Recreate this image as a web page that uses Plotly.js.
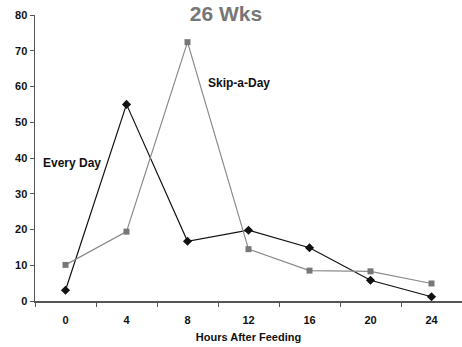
<!DOCTYPE html>
<html>
<head>
<meta charset="utf-8">
<script src="https://cdn.plot.ly/plotly-3.0.1.min.js"></script>
<style>html,body{margin:0;padding:0;background:#fff;}#chart{width:462px;height:347px;}</style>
</head>
<body>
<div id="chart"></div>
<script>
const hours = ["0", "4", "8", "12", "16", "20", "24"];
const everyDay = [3, 55, 16.7, 19.8, 14.9, 5.8, 1.2];
const skipADay = [10.1, 19.4, 72.4, 14.5, 8.5, 8.3, 4.9];
const yTicks = [0, 10, 20, 30, 40, 50, 60, 70, 80];

const traces = [
  {
    x: hours, y: everyDay, type: 'scatter', mode: 'lines+markers', name: 'Every Day',
    line: {color: '#111111', width: 1.2},
    marker: {symbol: 'diamond', size: 7, color: '#111111'}
  },
  {
    x: hours, y: skipADay, type: 'scatter', mode: 'lines+markers', name: 'Skip-a-Day',
    line: {color: '#8a8a8a', width: 1.2},
    marker: {symbol: 'square', size: 6, color: '#777777'}
  }
];

const layout = {
  width: 462, height: 347,
  margin: {l: 35, r: 0, t: 15, b: 46},
  paper_bgcolor: '#ffffff', plot_bgcolor: '#ffffff',
  showlegend: false,
  font: {family: 'Liberation Sans, Arial, sans-serif', color: '#111'},
  title: {
    text: '<b>26 Wks</b>',
    font: {size: 21, color: '#777777', family: 'Liberation Sans, Arial, sans-serif'},
    x: 0.489, xanchor: 'center', xref: 'container',
    y: 1.0, yanchor: 'top', yref: 'container', pad: {t: 6}
  },
  xaxis: {
    type: 'category', range: [-0.5, 6.5],
    tickson: 'boundaries', ticks: 'outside', ticklen: 4, tickcolor: '#555',
    showline: true, linecolor: '#555', linewidth: 1.5,
    showgrid: false, zeroline: false, ticklabelstandoff: 8,
    tickfont: {size: 11, family: 'Liberation Sans, Arial, sans-serif', color: '#111'},
    title: {text: '<b>Hours After Feeding</b>', font: {size: 11, color: '#111'}, standoff: 8}
  },
  yaxis: {
    range: [0, 80], tickvals: yTicks, ticktext: yTicks.map(v => '<b>' + v + '</b>'),
    ticks: 'outside', ticklen: 4, tickcolor: '#555',
    showline: true, linecolor: '#555', linewidth: 1.5,
    showgrid: false, zeroline: false,
    tickfont: {size: 11, family: 'Liberation Sans, Arial, sans-serif', color: '#111'}
  },
  annotations: [
    {x: 0, y: 38.5, xref: 'paper', yref: 'y', xanchor: 'left', yanchor: 'middle', xshift: 6,
     text: '<b>Every Day</b>', showarrow: false, font: {size: 12, color: '#111'}},
    {x: 2.3, y: 61, xref: 'x', yref: 'y', xanchor: 'left', yanchor: 'middle',
     text: '<b>Skip-a-Day</b>', showarrow: false, font: {size: 12, color: '#111'}}
  ]
};

layout.xaxis.tickvals = hours;
layout.xaxis.ticktext = hours.map(h => '<b>' + h + '</b>');

Plotly.newPlot('chart', traces, layout, {staticPlot: true, displayModeBar: false});
</script>
</body>
</html>
